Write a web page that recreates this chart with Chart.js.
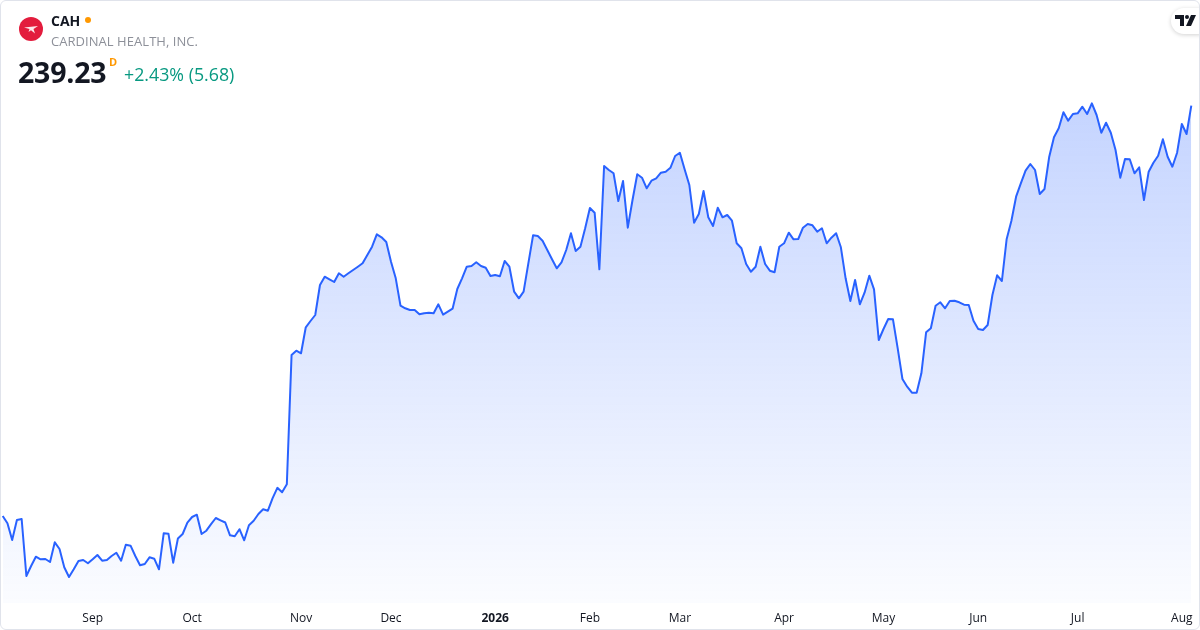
<!DOCTYPE html>
<html>
<head>
<meta charset="utf-8">
<script src="https://cdn.jsdelivr.net/npm/chart.js@4/dist/chart.umd.min.js"></script>
<style>
  html, body { margin: 0; padding: 0; background: #fff; }
  #wrap { position: relative; width: 1200px; height: 630px; overflow: hidden; font-family: "Open Sans", sans-serif; }
  #chart { position: absolute; left: 0; top: 0; }
  #frame { position: absolute; inset: 0; border: 1px solid #e0e3eb; border-radius: 6px; pointer-events: none; }
  .abs { position: absolute; white-space: nowrap; }
  #logo { left: 19px; top: 17px; width: 24px; height: 24px; }
  #sym { left: 51px; top: 11px; font-size: 14px; font-weight: 700; color: #131722; }
  #dot { left: 85px; top: 17px; width: 6px; height: 6px; border-radius: 50%; background: #ff9800; }
  #name { left: 51px; top: 32px; font-size: 13px; color: #8d9099; letter-spacing: 0.05px; }
  #price { left: 18px; top: 53px; font-size: 28.5px; font-weight: 700; color: #131722; letter-spacing: -0.2px; }
  #res { left: 109px; top: 54px; font-size: 11px; font-weight: 700; color: #ff9800; }
  #chg { left: 124px; top: 62px; font-size: 17.8px; color: #089981; }
  #tv { left: 1171px; top: 8px; width: 40px; height: 26px; border-radius: 13px; background: #fff; box-shadow: 0 1px 4px rgba(0,0,0,0.18); }
</style>
</head>
<body>
<div id="wrap">
  <canvas id="chart" width="1200" height="630"></canvas>
  <svg id="logo" class="abs" viewBox="0 0 24 24">
    <circle cx="12" cy="12" r="12" fill="#e31c3d"/>
    <path d="M5 10.5 L19 9 L14.5 12 L16 16.5 L12 13.2 L9.5 15 L10.5 12 Z" fill="#fff" opacity="0.9"/>
  </svg>
  <div id="sym" class="abs">CAH</div>
  <div id="dot" class="abs"></div>
  <div id="name" class="abs">CARDINAL HEALTH, INC.</div>
  <div id="price" class="abs">239.23</div>
  <div id="res" class="abs">D</div>
  <div id="chg" class="abs">+2.43% (5.68)</div>
  <div id="tv" class="abs">
    <svg width="22" height="12" viewBox="0 0 22 12" style="position:absolute;left:4px;top:7px">
      <path d="M0 0 H9 V11 H5 V4 H0 Z" fill="#131722"/>
      <circle cx="12" cy="2" r="2" fill="#131722"/>
      <path d="M16 0 H21 L16 11 H11 Z" fill="#131722"/>
    </svg>
  </div>
  <div id="frame"></div>
</div>
<script>
// daily closes, mid-Aug 2025 .. Aug 2026
const closes = [
  157.17,155.71,152.37,156.37,156.57,145.17,147.17,149.03,148.51,148.57,
  147.97,151.91,150.57,146.91,144.97,146.51,148.17,148.37,147.71,148.51,
  149.37,148.23,148.37,149.17,149.83,148.23,151.43,151.23,149.17,147.31,
  147.57,148.91,148.63,146.51,153.71,153.63,147.83,152.67,153.57,155.83,
  156.97,157.43,153.57,154.23,155.53,156.77,156.31,155.87,153.31,153.13,
  154.53,152.31,155.33,156.21,157.57,158.53,158.23,160.73,162.81,161.91,
  163.51,189.37,190.23,189.71,194.91,196.17,197.37,203.37,205.03,204.51,
  203.97,205.71,205.03,205.71,206.37,207.03,207.71,209.37,211.03,213.51,
  212.91,211.97,208.03,204.71,199.23,198.71,198.37,198.37,197.51,197.71,
  197.83,197.71,199.51,197.43,198.03,198.63,202.57,204.71,207.03,207.17,
  207.91,207.17,206.83,205.17,205.37,205.11,208.17,207.03,202.03,200.71,
  202.03,207.71,213.31,213.17,212.23,210.37,208.51,206.71,207.91,210.37,
  213.71,210.17,211.03,214.71,218.77,217.83,206.51,227.17,226.37,225.71,
  220.17,224.17,214.83,220.37,225.51,224.83,222.71,224.23,224.71,225.83,
  226.03,226.81,229.17,229.83,226.51,223.37,215.83,217.57,222.17,216.91,
  215.17,218.83,216.91,217.37,216.23,211.71,210.71,207.57,206.03,207.03,
  211.03,207.57,206.23,205.91,211.03,211.71,213.83,212.51,212.57,214.83,
  215.57,215.31,214.03,214.71,211.71,212.83,213.71,210.91,204.71,200.17,
  204.37,199.51,201.83,205.23,202.51,192.37,194.57,196.57,196.51,190.71,
  184.57,183.03,181.83,181.83,185.71,193.91,194.71,199.23,199.91,198.71,
  200.17,200.23,199.91,199.43,199.37,196.23,194.57,194.37,195.37,201.37,
  205.31,204.17,212.51,216.17,221.03,223.71,226.23,227.57,226.37,221.57,
  222.57,229.03,232.91,234.71,237.91,236.23,237.57,237.71,239.03,237.57,
  239.71,237.37,233.83,235.83,233.83,230.37,224.83,228.57,228.51,225.71,
  226.91,220.37,226.03,227.83,229.23,232.51,229.03,227.03,229.83,235.57,
  233.57,239.23
];

// month tick labels and the bar index where each month starts
const monthLabels = ['Sep', 'Oct', 'Nov', 'Dec', '2026', 'Feb', 'Mar', 'Apr', 'May', 'Jun', 'Jul', 'Aug'];
const monthStarts = [19, 40, 63, 82, 104, 124, 143, 165, 186, 206, 227, 249];

const labels = closes.map((_, i) => {
  const k = monthStarts.indexOf(i);
  return k >= 0 ? monthLabels[k] : '';
});

const ctx = document.getElementById('chart').getContext('2d');

new Chart(ctx, {
  type: 'line',
  data: {
    labels: labels,
    datasets: [{
      data: closes,
      borderColor: '#2962ff',
      borderWidth: 2,
      borderJoinStyle: 'round',
      pointRadius: 0,
      pointHoverRadius: 0,
      pointHitRadius: 0,
      tension: 0,
      fill: 'start',
      clip: false,
      backgroundColor: (c) => {
        const area = c.chart.chartArea;
        if (!area) return 'rgba(41,98,255,0.15)';
        const g = c.chart.ctx.createLinearGradient(0, area.top, 0, area.bottom);
        g.addColorStop(0, 'rgba(41,98,255,0.28)');
        g.addColorStop(1, 'rgba(41,98,255,0.02)');
        return g;
      }
    }]
  },
  options: {
    responsive: false,
    animation: false,
    layout: { autoPadding: false, padding: { left: 2.7, right: 8.7, top: 90, bottom: 4.6 } },
    plugins: { legend: { display: false }, tooltip: { enabled: false } },
    scales: {
      x: {
        offset: false,
        grid: { display: false, drawTicks: false },
        border: { display: false },
        afterFit: (scale) => {
          // tick padding should only push labels down, not squeeze the plot sideways
          scale.height = 22.4;
          scale.paddingLeft = 0;
          scale.paddingRight = 0;
        },
        ticks: {
          autoSkip: false,
          maxRotation: 0,
          padding: 8,
          color: '#131722',
          font: (c) => ({
            family: 'Open Sans',
            size: 12,
            weight: labels[c.index] === '2026' ? 'bold' : 'normal'
          })
        }
      },
      y: {
        display: false,
        min: 139.77,
        max: 242.37
      }
    }
  }
});
</script>
</body>
</html>
